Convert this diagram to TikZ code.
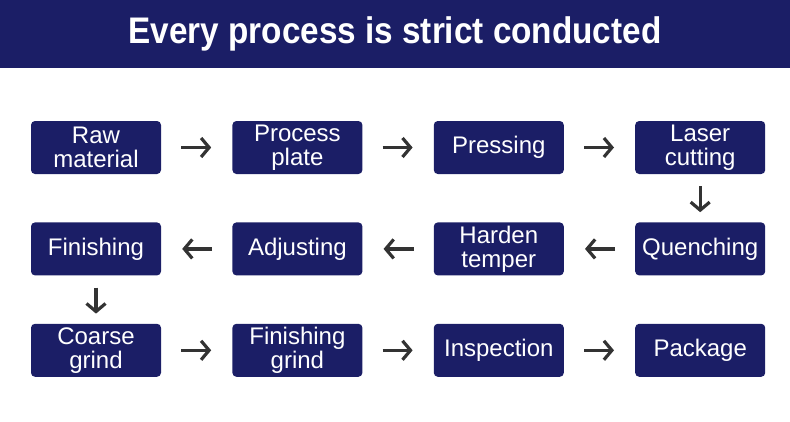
\documentclass[tikz,border=0pt]{standalone}
\usepackage{fontspec}
\setmainfont{Liberation Sans}
\newfontfamily\titlefont[FakeStretch=0.9]{Liberation Sans}
\usetikzlibrary{arrows.meta,positioning}
\definecolor{navy}{RGB}{27,30,102}
\definecolor{arrowgray}{RGB}{51,51,51}

\begin{document}
\begin{tikzpicture}[
    node distance=48pt and 71pt,
    banner/.style={rectangle, fill=navy, text=white, minimum width=790pt, minimum height=68pt, inner sep=0pt, font=\titlefont\bfseries\fontsize{37}{40}\selectfont},
    stage/.style={rectangle, rounded corners=4pt, fill=navy, text=white, minimum width=130pt, minimum height=53pt, inner sep=0pt, align=center, font=\fontsize{24}{24}\selectfont},
    arrow/.style={-{Straight Barb[length=8pt,width=19pt]}, line width=3.2pt, draw=arrowgray},
    hflow/.style={arrow, shorten <=20pt, shorten >=21pt},
    vflow/.style={arrow, shorten <=12pt, shorten >=10pt}
]
\useasboundingbox (0,0) rectangle (790pt,-421pt);

% Title band
\node[banner] (title) at (395pt,-34pt) {Every process is strict conducted};

% First row
\node[stage] (raw) at (96pt,-147.5pt) {Raw\\material};
\node[stage, right=of raw] (plate) {Process\\plate};
\node[stage, right=of plate] (press) {Pressing};
\node[stage, right=of press] (laser) {Laser\\cutting};

% Second row
\node[stage, below=of laser] (quench) {Quenching};
\node[stage, left=of quench] (harden) {Harden\\temper};
\node[stage, left=of harden] (adjust) {Adjusting};
\node[stage, left=of adjust] (finish) {Finishing};

% Third row
\node[stage, below=of finish] (coarse) {Coarse\\grind};
\node[stage, right=of coarse] (fgrind) {Finishing\\grind};
\node[stage, right=of fgrind] (inspect) {Inspection};
\node[stage, right=of inspect] (pack) {Package};

\draw[hflow] (raw) -- (plate);
\draw[hflow] (plate) -- (press);
\draw[hflow] (press) -- (laser);
\draw[vflow] (laser) -- (quench);
\draw[hflow] (quench) -- (harden);
\draw[hflow] (harden) -- (adjust);
\draw[hflow] (adjust) -- (finish);
\draw[vflow] (finish) -- (coarse);
\draw[hflow] (coarse) -- (fgrind);
\draw[hflow] (fgrind) -- (inspect);
\draw[hflow] (inspect) -- (pack);
\end{tikzpicture}
\end{document}
